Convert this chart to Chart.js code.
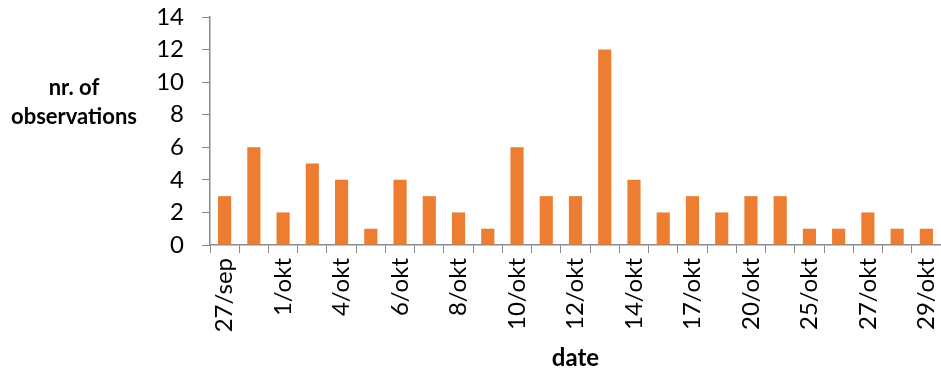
<!DOCTYPE html>
<html>
<head>
<meta charset="utf-8">
<script src="https://cdn.jsdelivr.net/npm/chart.js@4"></script>
<style>
  body { margin: 0; background: #fff; }
  #wrap { width: 941px; height: 374px; }
</style>
</head>
<body>
<div id="wrap"><canvas id="obsChart"></canvas></div>
<script>
// dates (only every other one gets a label on the axis)
const dates = ['27/sep', '30/sep', '1/okt', '3/okt', '4/okt', '5/okt', '6/okt', '7/okt', '8/okt',
  '9/okt', '10/okt', '11/okt', '12/okt', '13/okt', '14/okt', '15/okt', '17/okt', '18/okt',
  '20/okt', '22/okt', '25/okt', '26/okt', '27/okt', '28/okt', '29/okt'];
const observations = [3, 6, 2, 5, 4, 1, 4, 3, 2, 1, 6, 3, 3, 12, 4, 2, 3, 2, 3, 3, 1, 1, 2, 1, 1];
const yTicks = [0, 2, 4, 6, 8, 10, 12, 14];

const axisGrey = '#898989';
const fontFam = 'Lato, "Open Sans", sans-serif';

// horizontal y-axis title, left of the tick labels
const sideTitle = {
  id: 'sideTitle',
  afterDraw(chart) {
    const ctx = chart.ctx;
    ctx.save();
    ctx.font = 'bold 22px ' + fontFam;
    ctx.fillStyle = '#000';
    ctx.textAlign = 'center';
    ctx.textBaseline = 'middle';
    ctx.fillText('nr. of', 74, 88);
    ctx.fillText('observations', 74, 117);
    ctx.restore();
  }
};

new Chart(document.getElementById('obsChart'), {
  type: 'bar',
  data: {
    labels: dates,
    datasets: [{
      data: observations,
      backgroundColor: '#ED7D31',
      barPercentage: 0.45,
      categoryPercentage: 1
    }]
  },
  options: {
    responsive: true,
    maintainAspectRatio: false,
    animation: false,
    layout: { padding: { top: 17, right: -2, bottom: 0, left: 0 } },
    plugins: { legend: { display: false }, tooltip: { enabled: false } },
    scales: {
      x: {
        afterFit: (scale) => { scale.height = 129; scale.paddingRight = -2; },
        grid: { offset: true, drawOnChartArea: false, drawTicks: true, tickLength: 8, color: axisGrey },
        border: { color: axisGrey, width: 1.5 },
        ticks: {
          autoSkip: false,
          minRotation: 90,
          maxRotation: 90,
          padding: 5,
          color: '#000',
          font: { family: fontFam, size: 24 },
          callback: (v, i) => (i % 2 === 0 ? dates[i] : '')
        },
        title: { display: true, text: 'date', color: '#000', font: { family: fontFam, size: 24, weight: 'bold' }, padding: { top: 4, bottom: 1 } }
      },
      y: {
        min: 0,
        max: 14,
        afterBuildTicks: (scale) => { scale.ticks = yTicks.map(v => ({ value: v })); },
        afterFit: (scale) => { scale.width = 210; scale.paddingTop = 0; scale.paddingBottom = 0; },
        grid: { drawOnChartArea: false, drawTicks: true, tickLength: 8, color: axisGrey },
        border: { color: axisGrey, width: 1.5 },
        ticks: { autoSkip: false, color: '#000', padding: 18, font: { family: fontFam, size: 24 } }
      }
    }
  },
  plugins: [sideTitle]
});
</script>
</body>
</html>
